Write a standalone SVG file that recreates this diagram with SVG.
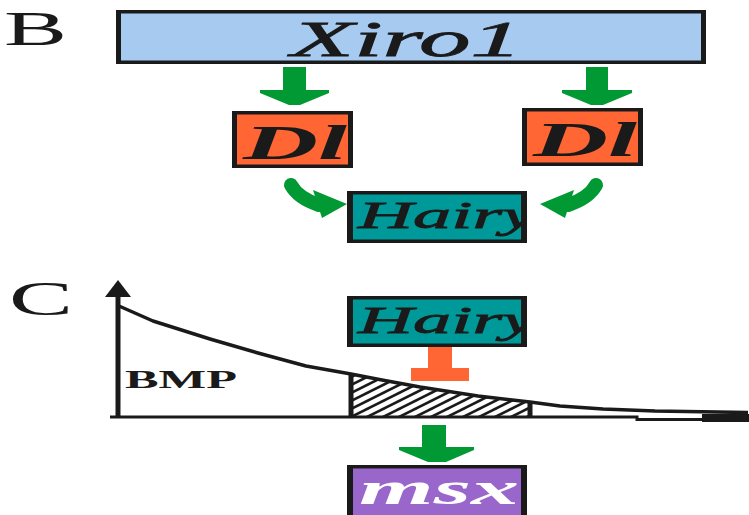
<svg xmlns="http://www.w3.org/2000/svg" width="749" height="515" viewBox="0 0 749 515">
<style>
.bd{fill:#1a1a1a}
.lbl{font-family:"Liberation Serif","Times New Roman",serif;fill:#1a1a1a}
.it{font-family:"Liberation Serif","Times New Roman",serif;font-style:italic;fill:#1a1a1a}
.b{font-weight:bold}
.grn{fill:#009933}
.ln{fill:none;stroke:#1a1a1a;stroke-width:3.5;stroke-linejoin:round}
</style>
<defs>
<pattern id="hatch" patternUnits="userSpaceOnUse" width="16" height="8" x="351" y="417">
<rect width="16" height="8" fill="#ffffff"/>
<path d="M-2,9 L18,-1 M-2,1 L2,-1 M14,9 L18,7" stroke="#1a1a1a" stroke-width="2.6"/>
</pattern>
<clipPath id="clipHB"><rect x="353" y="194.5" width="168" height="45"/></clipPath>
<clipPath id="clipHC"><rect x="353" y="299.5" width="168" height="44"/></clipPath>
</defs>
<rect width="749" height="515" fill="#ffffff"/>

<text class="lbl" x="4" y="45" font-size="48" textLength="63" lengthAdjust="spacingAndGlyphs">B</text>
<text class="lbl" x="9" y="315" font-size="48" textLength="64" lengthAdjust="spacingAndGlyphs">C</text>

<g id="xiro1">
<rect class="bd" x="116" y="10" width="590" height="54"/>
<rect x="121" y="13.5" width="580" height="47" fill="#a6caf0"/>
<text class="it" x="291" y="56" font-size="51" textLength="231" lengthAdjust="spacingAndGlyphs" stroke="#1a1a1a" stroke-width="0.8">Xiro1</text>
</g>

<g id="di-left">
<rect class="bd" x="232" y="111" width="121" height="57"/>
<rect x="237" y="114.5" width="111" height="50" fill="#ff6633"/>
<text class="it b" x="243" y="159" font-size="49" textLength="104" lengthAdjust="spacingAndGlyphs">Dl</text>
</g>

<g id="di-right">
<rect class="bd" x="522" y="108" width="121" height="58"/>
<rect x="527" y="111.5" width="111" height="51" fill="#ff6633"/>
<text class="it b" x="533" y="156" font-size="49" textLength="104" lengthAdjust="spacingAndGlyphs">Dl</text>
</g>

<g id="hairy-b">
<rect class="bd" x="347" y="191" width="180" height="52"/>
<rect x="353" y="194.5" width="168" height="45" fill="#009999"/>
<text class="it" x="358" y="228" font-size="38" textLength="178" lengthAdjust="spacingAndGlyphs" stroke="#1a1a1a" stroke-width="0.8" clip-path="url(#clipHB)">Hairy</text>
</g>

<g id="hairy-c">
<rect class="bd" x="347" y="296" width="180" height="51"/>
<rect x="353" y="299.5" width="168" height="44" fill="#009999"/>
<text class="it" x="358" y="333" font-size="38" textLength="178" lengthAdjust="spacingAndGlyphs" stroke="#1a1a1a" stroke-width="0.8" clip-path="url(#clipHC)">Hairy</text>
</g>

<g id="msx">
<rect class="bd" x="347" y="465" width="180" height="60"/>
<rect x="353" y="468.5" width="168" height="56" fill="#9966cc"/>
<text x="359" y="504" font-size="46" textLength="160" lengthAdjust="spacingAndGlyphs" font-family="Liberation Serif, Times New Roman, serif" font-style="italic" font-weight="bold" fill="#ffffff">msx</text>
</g>

<g id="plot">
<polygon points="351,417 351,375 382,381 420,388 478,397 530,403 530,417" fill="url(#hatch)"/>
<polyline class="ln" points="119,306 153,321 210,339 258,353 306,366 351,374 382,380 420,387 478,396 530,402 560,406 603,409 655,411 748,412.5"/>
<line x1="351" y1="374" x2="351" y2="417" stroke="#1a1a1a" stroke-width="5"/>
<line x1="530" y1="402" x2="530" y2="417" stroke="#1a1a1a" stroke-width="5"/>
<line x1="118" y1="295" x2="118" y2="417" stroke="#1a1a1a" stroke-width="5"/>
<polygon points="105,297 118,280 131,297" fill="#1a1a1a"/>
<polyline points="110,417 637,417 637,419.5 702,419.5" fill="none" stroke="#1a1a1a" stroke-width="3"/>
<rect x="702" y="414" width="47" height="8" fill="#1a1a1a"/>
<text class="lbl b" x="125" y="388" font-size="26" textLength="112" lengthAdjust="spacingAndGlyphs">BMP</text>
</g>

<g id="connectors">
<g id="arrow-xiro-dl-left">
<rect class="grn" x="283" y="67" width="23" height="24"/>
<polygon class="grn" points="260,90 329,90 329,93 300,105 289,105 260,93"/>
</g>
<g id="arrow-xiro-dl-right">
<rect class="grn" x="586" y="67" width="22" height="24"/>
<polygon class="grn" points="562,90 632,90 632,93 603,105 591,105 562,93"/>
</g>
<g id="arrow-hairy-dl-left">
<path d="M291,185 Q298,198 319,205" fill="none" stroke="#009933" stroke-width="14" stroke-linecap="round"/>
<polygon class="grn" points="313,190 347,204 322,218"/>
</g>
<g id="arrow-hairy-dl-right" transform="translate(887,0) scale(-1,1)">
<path d="M291,185 Q298,198 319,205" fill="none" stroke="#009933" stroke-width="14" stroke-linecap="round"/>
<polygon class="grn" points="313,190 347,204 322,218"/>
</g>
<g id="inhibit-hairy-bmp">
<rect x="428" y="347" width="24" height="22" fill="#ff6633"/>
<rect x="411" y="368" width="58" height="13" fill="#ff6633"/>
</g>
<g id="arrow-bmp-msx">
<rect class="grn" x="422" y="425" width="24" height="23"/>
<polygon class="grn" points="399,447 474,447 474,450 446,462 428,462 399,450"/>
</g>
</g>
</svg>
